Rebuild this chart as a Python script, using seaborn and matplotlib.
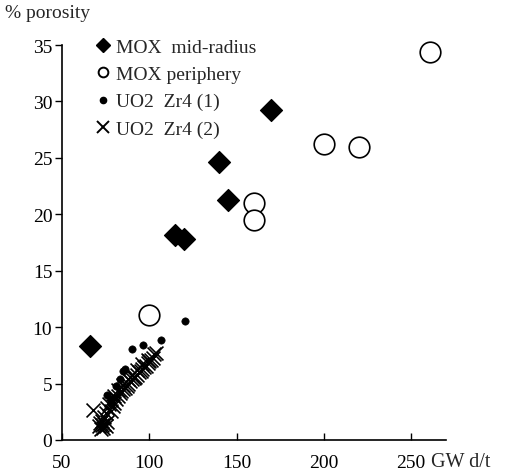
import matplotlib
matplotlib.use("Agg")
import matplotlib.pyplot as plt
import seaborn as sns
import pandas as pd
from matplotlib.lines import Line2D

sns.set_theme(style="white")
plt.rcParams['font.family'] = ['Liberation Serif', 'DejaVu Serif']

# Data
mox_mid_x = [66, 115, 120, 140, 145, 170]
mox_mid_y = [8.3, 18.2, 17.8, 24.6, 21.3, 29.2]
mox_per_x = [100, 160, 160, 200, 220, 261]
mox_per_y = [11.1, 21.0, 19.5, 26.2, 26.0, 34.4]
uo2_1_x = [75.5, 78, 81, 83, 85, 86, 90, 96.5, 106.5, 120.5]
uo2_1_y = [4.0, 3.6, 4.8, 5.4, 6.1, 6.3, 8.1, 8.4, 8.9, 10.5]
uo2_2_x = [68, 71, 72, 72.5, 73, 73, 73.5, 74, 74, 75, 75, 76, 76, 77, 78, 78, 79, 80, 80,
           81, 82, 82, 83, 84, 85, 85, 86, 87, 88, 88, 89, 90, 90, 91, 92, 93, 93, 94, 95,
           96, 96, 97, 98, 99, 99, 100, 101, 102, 103, 104]
uo2_2_y = [2.7, 1.2, 1.5, 1.0, 1.3, 1.7, 1.1, 1.4, 2.0, 1.2, 2.4, 1.6, 2.8, 3.2, 2.6, 3.5, 3.0, 3.3, 3.9,
           3.6, 3.9, 4.4, 4.2, 4.3, 4.5, 4.9, 4.6, 4.8, 5.0, 5.4, 5.2, 5.4, 5.8, 5.5, 5.6, 5.8, 6.2, 6.0, 6.1,
           6.3, 6.7, 6.5, 6.6, 6.8, 7.1, 7.0, 7.1, 7.3, 7.6, 7.7]
labels = ["MOX  mid-radius", "MOX periphery", "UO2  Zr4 (1)", "UO2  Zr4 (2)"]
x_ticks = [50, 100, 150, 200, 250]
y_ticks = [0, 5, 10, 15, 20, 25, 30, 35]

fig = plt.figure(figsize=(5.05, 4.77), dpi=100)
ax = fig.add_axes([0.1228, 0.0755, 0.7602, 0.828])

sns.scatterplot(x=uo2_2_x, y=uo2_2_y, ax=ax, marker="x", s=100, color="black", linewidth=1.2)
sns.scatterplot(x=uo2_1_x, y=uo2_1_y, ax=ax, marker="o", s=28, color="black", edgecolor="black")
sns.scatterplot(x=mox_per_x, y=mox_per_y, ax=ax, marker="o", s=220, facecolor="white",
                edgecolor="black", linewidth=1.2, clip_on=False)
sns.scatterplot(x=mox_mid_x, y=mox_mid_y, ax=ax, marker="D", s=125, color="black", edgecolor="black")

ax.set_xlim(50, 270)
ax.set_ylim(0, 35)
ax.set_xticks(x_ticks)
ax.set_yticks(y_ticks)
ax.tick_params(axis='x', direction='in', length=5, width=1, colors='black', labelsize=14, pad=10, bottom=True)
ax.tick_params(axis='y', direction='out', length=5, width=1, colors='black', labelsize=14, pad=2, left=True)
for s in ['top', 'right']:
    ax.spines[s].set_visible(False)
for s in ['left', 'bottom']:
    ax.spines[s].set_color('black')
    ax.spines[s].set_linewidth(1.2)
ax.grid(False)

fig.text(0.01, 0.972, "% porosity", fontsize=14, ha='left', va='center')
fig.text(0.853, 0.031, "GW d/t", fontsize=14.5, ha='left', va='center')

handles = [
    Line2D([], [], marker='D', color='black', linestyle='none', markersize=7),
    Line2D([], [], marker='o', markerfacecolor='white', markeredgecolor='black', linestyle='none',
           markersize=7, markeredgewidth=1.4),
    Line2D([], [], marker='o', color='black', linestyle='none', markersize=4.5),
    Line2D([], [], marker='x', color='black', linestyle='none', markersize=9, markeredgewidth=1.4),
]
ax.legend(handles, labels, loc='upper left', bbox_to_anchor=(0.03, 1.062), frameon=False,
          fontsize=14, handletextpad=0.1, labelspacing=0.5, handlelength=1.2)

fig.savefig("out.png", dpi=100)
